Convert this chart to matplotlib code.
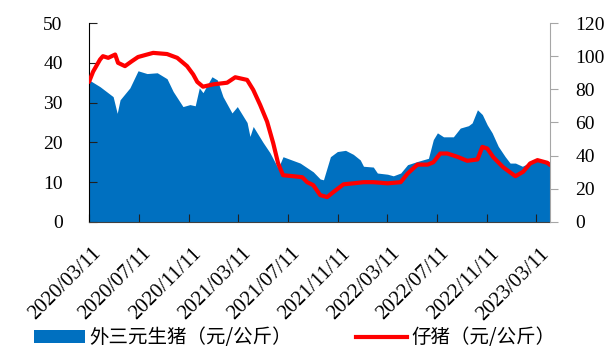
import numpy as np
import pandas as pd
import matplotlib
matplotlib.use("Agg")
import matplotlib.pyplot as plt
import matplotlib.dates as mdates
import matplotlib.transforms as mtransforms
from matplotlib.patches import Patch
from matplotlib.lines import Line2D

# 外三元生猪 (left axis, 元/公斤)
hog_dates = ["2020-03-11", "2020-04-07", "2020-05-09", "2020-05-19", "2020-05-26", "2020-06-19",
             "2020-07-09", "2020-07-31", "2020-08-25", "2020-09-18", "2020-10-03", "2020-10-27",
             "2020-11-13", "2020-11-26", "2020-12-06", "2020-12-15", "2021-01-06", "2021-01-19",
             "2021-02-02", "2021-02-24", "2021-03-09", "2021-04-02", "2021-04-09", "2021-04-17",
             "2021-05-11", "2021-05-28", "2021-06-17", "2021-06-29", "2021-08-10", "2021-09-11",
             "2021-09-28", "2021-10-06", "2021-10-23", "2021-11-09", "2021-11-29", "2021-12-18",
             "2022-01-04", "2022-01-12", "2022-02-05", "2022-02-15", "2022-03-12", "2022-03-26",
             "2022-04-13", "2022-04-30", "2022-05-24", "2022-06-20", "2022-07-02", "2022-07-12",
             "2022-07-27", "2022-08-20", "2022-09-06", "2022-09-26", "2022-10-05", "2022-10-18",
             "2022-10-30", "2022-11-11", "2022-11-23", "2022-12-08", "2022-12-25", "2023-01-06",
             "2023-01-19", "2023-02-05", "2023-02-17", "2023-03-04", "2023-03-28", "2023-04-14"]
hog_price = [35.7, 34.0, 31.5, 27.3, 30.7, 33.7,
             38.0, 37.3, 37.5, 36.0, 32.8, 29.0,
             29.5, 29.2, 33.7, 32.5, 36.5, 35.7,
             31.5, 27.4, 29.0, 25.0, 21.5, 24.0,
             20.0, 17.4, 13.5, 16.4, 14.8, 12.6,
             10.8, 10.6, 16.4, 17.7, 18.0, 17.0,
             15.6, 14.0, 13.8, 12.3, 12.0, 11.6,
             12.3, 14.4, 15.2, 16.0, 20.7, 22.4,
             21.4, 21.4, 23.6, 24.2, 24.9, 28.2,
             27.0, 24.4, 22.4, 19.0, 16.4, 14.8,
             14.8, 14.0, 14.6, 15.6, 15.0, 14.6]

# 仔猪 (right axis, 元/公斤)
piglet_dates = ["2020-03-11", "2020-03-21", "2020-04-07", "2020-04-14", "2020-04-27", "2020-05-14",
                "2020-05-21", "2020-06-07", "2020-06-24", "2020-07-09", "2020-07-31", "2020-08-15",
                "2020-09-18", "2020-10-13", "2020-11-06", "2020-11-21", "2020-12-01", "2020-12-15",
                "2021-01-09", "2021-02-12", "2021-03-04", "2021-04-02", "2021-04-17", "2021-05-04",
                "2021-05-21", "2021-06-05", "2021-06-17", "2021-06-29", "2021-07-24", "2021-08-15",
                "2021-08-27", "2021-09-11", "2021-09-28", "2021-10-15", "2021-10-30", "2021-11-24",
                "2021-12-18", "2022-01-12", "2022-02-05", "2022-03-12", "2022-04-13", "2022-04-30",
                "2022-05-24", "2022-06-18", "2022-07-02", "2022-07-19", "2022-08-05", "2022-08-30",
                "2022-09-23", "2022-10-18", "2022-10-30", "2022-11-11", "2022-11-26", "2022-12-20",
                "2023-01-19", "2023-02-07", "2023-02-24", "2023-03-14", "2023-04-07", "2023-04-14"]
piglet_price = [84.5, 90.7, 98.0, 100.0, 99.0, 101.0,
                96.0, 94.0, 97.0, 99.5, 101.0, 102.0,
                101.3, 99.0, 94.0, 89.0, 84.5, 81.6,
                83.0, 84.0, 87.3, 85.7, 79.7, 70.6,
                60.5, 47.5, 35.3, 28.2, 27.6, 27.0,
                24.0, 22.2, 16.2, 15.0, 18.0, 22.7,
                23.3, 24.0, 24.0, 23.3, 24.0, 29.2,
                34.6, 34.6, 36.0, 41.3, 41.3, 39.3,
                36.9, 37.7, 45.3, 44.3, 39.0, 33.0,
                27.6, 30.3, 35.3, 37.3, 35.7, 34.3]

tick_dates = ["2020-03-11", "2020-07-11", "2020-11-11", "2021-03-11", "2021-07-11",
              "2021-11-11", "2022-03-11", "2022-07-11", "2022-11-11", "2023-03-11"]

hd = pd.to_datetime(hog_dates)
pdt = pd.to_datetime(piglet_dates)

serif = "Liberation Serif"
cjk = ["Noto Sans CJK SC", "DejaVu Sans"]

fig = plt.figure(figsize=(6.14, 3.49), dpi=100)
ax = fig.add_axes([0.145, 0.364, 0.751, 0.57])
ax2 = ax.twinx()

ax.fill_between(hd, 0, hog_price, color="#0070C0", linewidth=0)
ax2.plot(pdt, piglet_price, color="#FF0000", linewidth=3, solid_capstyle="round")

ax.set_xlim(pd.Timestamp("2020-03-11"), pd.Timestamp("2023-04-14"))
ax.set_ylim(0, 50)
ax2.set_ylim(0, 120)
ax.set_yticks(np.arange(0, 51, 10))
ax2.set_yticks(np.arange(0, 121, 20))
ax.set_xticks(pd.to_datetime(tick_dates))
ax.xaxis.set_major_formatter(mdates.DateFormatter("%Y/%m/%d"))

for s in ["top", "right"]:
    ax.spines[s].set_visible(False)
ax2.spines["top"].set_visible(False)
ax2.spines["left"].set_visible(False)
ax2.spines["bottom"].set_visible(False)
ax2.spines["right"].set_color("#A6A6A6")
ax.spines["left"].set_color("black")
ax.spines["bottom"].set_color("#404040")

ax.tick_params(axis="x", direction="in", length=6, color="#202020", labelsize=15, pad=16)
ax.tick_params(axis="y", direction="in", length=6, color="#202020", labelsize=14, pad=19)
ax2.tick_params(axis="y", direction="out", length=6, color="#A6A6A6", labelsize=14, pad=12)
shift = mtransforms.ScaledTranslation(3 / 100, 0, fig.dpi_scale_trans)
for lab in ax.get_xticklabels():
    lab.set_rotation(45)
    lab.set_ha("right")
    lab.set_va("top")
    lab.set_rotation_mode("anchor")
    lab.set_fontfamily(serif)
    lab.set_transform(lab.get_transform() + shift)
for lab in ax.get_yticklabels() + ax2.get_yticklabels():
    lab.set_fontfamily(serif)

leg_kw = dict(frameon=False, handlelength=2.6, handleheight=0.6, handletextpad=0.25,
              borderpad=0, borderaxespad=0, prop={"family": cjk, "size": 14})
fig.legend([Patch(facecolor="#0070C0", edgecolor="none")], ["外三元生猪（元/公斤）"],
           loc="center left", bbox_to_anchor=(34 / 614, 11 / 349), **leg_kw)
fig.legend([Line2D([], [], color="#FF0000", linewidth=3)], ["仔猪（元/公斤）"],
           loc="center left", bbox_to_anchor=(356 / 614, 11 / 349), **leg_kw)

fig.savefig("out.png", dpi=100)
